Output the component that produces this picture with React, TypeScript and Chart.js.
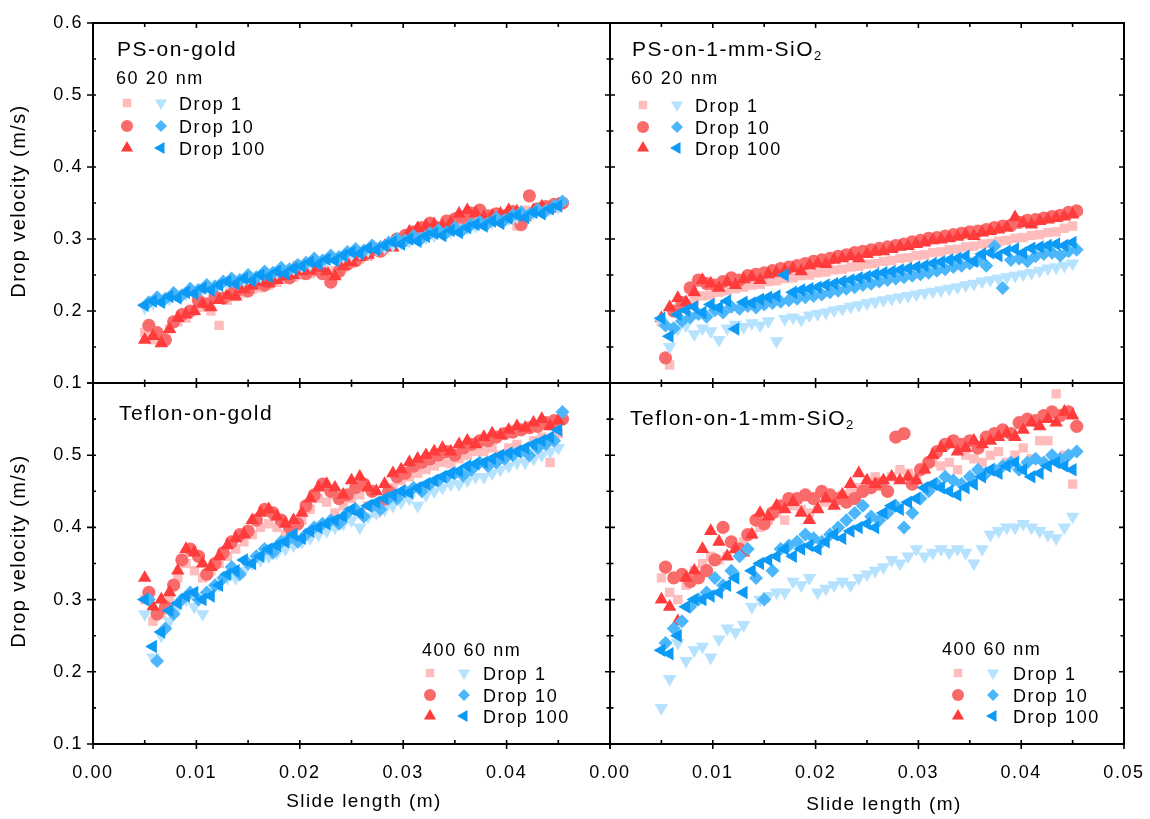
import React, { useEffect, useRef } from "react";
import { Chart, registerables } from "chart.js";

Chart.register(...registerables);

const W = 1150;
const H = 819;
const FONT = '"Liberation Sans", Arial, sans-serif';

// ---- x positions (slide length, m) ----
const xA = [
  0.0050, 0.0058, 0.0066, 0.0074, 0.0082, 0.0090, 0.0098, 0.0106, 0.0114, 0.0122,
  0.0130, 0.0138, 0.0146, 0.0154, 0.0162, 0.0170, 0.0178, 0.0186, 0.0194, 0.0202,
  0.0210, 0.0218, 0.0226, 0.0234, 0.0242, 0.0250, 0.0258, 0.0266, 0.0274, 0.0282,
  0.0290, 0.0298, 0.0306, 0.0314, 0.0322, 0.0330, 0.0338, 0.0346, 0.0354, 0.0362,
  0.0370, 0.0378, 0.0386, 0.0394, 0.0402, 0.0410, 0.0418, 0.0426, 0.0434, 0.0442,
  0.0450,
];
const xB = [
  0.0054, 0.0062, 0.0070, 0.0078, 0.0086, 0.0094, 0.0102, 0.0110, 0.0118, 0.0126,
  0.0134, 0.0142, 0.0150, 0.0158, 0.0166, 0.0174, 0.0182, 0.0190, 0.0198, 0.0206,
  0.0214, 0.0222, 0.0230, 0.0238, 0.0246, 0.0254, 0.0262, 0.0270, 0.0278, 0.0286,
  0.0294, 0.0302, 0.0310, 0.0318, 0.0326, 0.0334, 0.0342, 0.0350, 0.0358, 0.0366,
  0.0374, 0.0382, 0.0390, 0.0398, 0.0406, 0.0414, 0.0422, 0.0430, 0.0438, 0.0446,
  0.0454,
];

// ---- tick values ----
const xTickValues = [0, 0.005, 0.01, 0.015, 0.02, 0.025, 0.03, 0.035, 0.04, 0.045, 0.05];
const yTickValues = [0.1, 0.15, 0.2, 0.25, 0.3, 0.35, 0.4, 0.45, 0.5, 0.55, 0.6];

// ---- PS-on-gold (top left) ----
const psGoldRed1 = [
  0.170, 0.160, 0.165, 0.175, 0.185, 0.190, 0.200, 0.205, 0.200, 0.180, 0.215,
  0.220, 0.225, 0.230, 0.232, 0.236, 0.240, 0.244, 0.247, 0.250, 0.252,
  0.254, 0.250, 0.256, 0.260, 0.266, 0.272, 0.276, 0.282, 0.285, 0.290,
  0.295, 0.302, 0.306, 0.310, 0.314, 0.312, 0.318, 0.322, 0.326, 0.330,
  0.328, 0.325, 0.330, 0.335, 0.318, 0.340, 0.338, 0.342, 0.344, 0.346,
];
const psGoldRed10 = [
  0.180, 0.170, 0.160, 0.185, 0.195, 0.200, 0.215, 0.210, 0.220, 0.218, 0.225,
  0.230, 0.228, 0.240, 0.236, 0.244, 0.250, 0.246, 0.262, 0.252, 0.258,
  0.252, 0.240, 0.255, 0.265, 0.270, 0.278, 0.285, 0.283, 0.292, 0.300,
  0.305, 0.310, 0.316, 0.322, 0.316, 0.325, 0.328, 0.330, 0.336, 0.340,
  0.332, 0.335, 0.332, 0.338, 0.320, 0.360, 0.342, 0.345, 0.348, 0.350,
];
const psGoldRed100 = [
  0.160, 0.165, 0.155, 0.175, 0.190, 0.195, 0.200, 0.210, 0.205, 0.215, 0.222,
  0.220, 0.230, 0.235, 0.240, 0.238, 0.243, 0.248, 0.250, 0.255, 0.256,
  0.260, 0.255, 0.248, 0.262, 0.268, 0.275, 0.278, 0.285, 0.290, 0.288,
  0.295, 0.310, 0.315, 0.318, 0.320, 0.318, 0.322, 0.335, 0.340, 0.336,
  0.330, 0.332, 0.335, 0.340, 0.338, 0.330, 0.340, 0.345, 0.342, 0.348,
];
const psGoldBlue1 = [
  0.205, 0.211, 0.215, 0.217, 0.222, 0.224, 0.228, 0.230, 0.233, 0.237, 0.239,
  0.242, 0.243, 0.247, 0.249, 0.252, 0.254, 0.257, 0.259, 0.263, 0.265,
  0.268, 0.270, 0.273, 0.276, 0.279, 0.281, 0.284, 0.287, 0.289, 0.292,
  0.295, 0.297, 0.300, 0.302, 0.305, 0.308, 0.310, 0.313, 0.315, 0.318,
  0.321, 0.323, 0.326, 0.328, 0.331, 0.334, 0.336, 0.339, 0.341, 0.344,
];
const psGoldBlue10 = [
  0.212, 0.219, 0.217, 0.225, 0.222, 0.231, 0.229, 0.236, 0.234, 0.241, 0.245,
  0.243, 0.250, 0.247, 0.255, 0.253, 0.260, 0.258, 0.264, 0.267, 0.273,
  0.270, 0.277, 0.275, 0.282, 0.286, 0.284, 0.291, 0.289, 0.295, 0.300,
  0.298, 0.304, 0.301, 0.308, 0.312, 0.309, 0.316, 0.313, 0.320, 0.324,
  0.322, 0.329, 0.326, 0.333, 0.337, 0.334, 0.341, 0.339, 0.346, 0.352,
];
const psGoldBlue100 = [
  0.208, 0.214, 0.212, 0.220, 0.218, 0.226, 0.224, 0.232, 0.229, 0.236, 0.241,
  0.238, 0.245, 0.242, 0.250, 0.248, 0.255, 0.252, 0.259, 0.262, 0.268,
  0.265, 0.272, 0.270, 0.277, 0.282, 0.280, 0.287, 0.285, 0.291, 0.296,
  0.293, 0.300, 0.297, 0.304, 0.308, 0.305, 0.312, 0.309, 0.316, 0.320,
  0.318, 0.325, 0.322, 0.329, 0.333, 0.330, 0.337, 0.335, 0.342, 0.346,
];

// ---- PS-on-1-mm-SiO2 (top right) ----
const psSiRed1 = [
  0.185, 0.125, 0.198, 0.208, 0.214, 0.221, 0.222, 0.226, 0.228, 0.231, 0.233,
  0.236, 0.237, 0.241, 0.242, 0.245, 0.246, 0.249, 0.250, 0.253, 0.254,
  0.257, 0.258, 0.261, 0.262, 0.265, 0.266, 0.269, 0.270, 0.273, 0.274,
  0.277, 0.278, 0.281, 0.282, 0.285, 0.286, 0.289, 0.290, 0.293, 0.294,
  0.297, 0.298, 0.301, 0.302, 0.305, 0.306, 0.309, 0.310, 0.315, 0.318,
];
const psSiRed10 = [
  0.135, 0.200, 0.212, 0.232, 0.243, 0.238, 0.236, 0.241, 0.246, 0.243, 0.249,
  0.251, 0.253, 0.256, 0.259, 0.261, 0.263, 0.266, 0.269, 0.271, 0.273,
  0.276, 0.278, 0.281, 0.283, 0.285, 0.287, 0.289, 0.291, 0.293, 0.296,
  0.298, 0.301, 0.302, 0.304, 0.306, 0.308, 0.310, 0.311, 0.313, 0.316,
  0.318, 0.319, 0.323, 0.326, 0.327, 0.329, 0.331, 0.333, 0.337, 0.339,
];
const psSiRed100 = [
  0.190, 0.205, 0.218, 0.212, 0.226, 0.243, 0.238, 0.232, 0.240, 0.236, 0.244,
  0.247, 0.243, 0.251, 0.253, 0.256, 0.259, 0.255, 0.263, 0.266, 0.265,
  0.271, 0.273, 0.276, 0.273, 0.279, 0.282, 0.283, 0.286, 0.289, 0.290,
  0.293, 0.295, 0.298, 0.299, 0.301, 0.303, 0.306, 0.304, 0.309, 0.311,
  0.313, 0.316, 0.330, 0.322, 0.320, 0.325, 0.327, 0.329, 0.331, 0.334,
];
const psSiBlue1 = [
  0.185, 0.150, 0.175, 0.180, 0.168, 0.176, 0.172, 0.160, 0.176, 0.181, 0.178,
  0.183, 0.180, 0.186, 0.158, 0.189, 0.191, 0.188, 0.194, 0.196, 0.198,
  0.201, 0.203, 0.206, 0.208, 0.211, 0.213, 0.215, 0.217, 0.219, 0.221,
  0.223, 0.225, 0.227, 0.229, 0.231, 0.233, 0.236, 0.238, 0.241, 0.243,
  0.245, 0.247, 0.249, 0.251, 0.253, 0.256, 0.259, 0.261, 0.263, 0.266,
];
const psSiBlue10 = [
  0.180, 0.176, 0.186, 0.191, 0.196, 0.192, 0.201, 0.198, 0.206, 0.203, 0.207,
  0.205, 0.209, 0.211, 0.213, 0.215, 0.217, 0.219, 0.221, 0.223, 0.226,
  0.228, 0.231, 0.233, 0.236, 0.238, 0.241, 0.243, 0.245, 0.247, 0.249,
  0.251, 0.253, 0.256, 0.258, 0.261, 0.263, 0.266, 0.271, 0.263, 0.290,
  0.232, 0.271, 0.273, 0.269, 0.276, 0.279, 0.281, 0.277, 0.283, 0.285,
];
const psSiBlue100 = [
  0.190, 0.165, 0.195, 0.201, 0.206, 0.198, 0.209, 0.205, 0.214, 0.175, 0.212,
  0.211, 0.216, 0.219, 0.221, 0.250, 0.226, 0.229, 0.231, 0.233, 0.236,
  0.238, 0.241, 0.243, 0.246, 0.248, 0.251, 0.253, 0.255, 0.257, 0.259,
  0.261, 0.263, 0.266, 0.268, 0.271, 0.273, 0.276, 0.269, 0.279, 0.281,
  0.277, 0.283, 0.286, 0.281, 0.287, 0.289, 0.291, 0.293, 0.291, 0.295,
];

// ---- Teflon-on-gold (bottom left) ----
const tfGoldRed1 = [
  0.300, 0.270, 0.280, 0.300, 0.330, 0.350, 0.340, 0.330, 0.340, 0.350, 0.360,
  0.370, 0.380, 0.390, 0.400, 0.405, 0.400, 0.390, 0.390, 0.410, 0.425,
  0.440, 0.435, 0.420, 0.430, 0.440, 0.445, 0.430, 0.420, 0.430, 0.455,
  0.465, 0.470, 0.475, 0.480, 0.485, 0.490, 0.488, 0.495, 0.500, 0.505,
  0.505, 0.510, 0.500, 0.510, 0.515, 0.505, 0.520, 0.525, 0.490, 0.530,
];
const tfGoldRed10 = [
  0.310, 0.280, 0.290, 0.320, 0.355, 0.370, 0.360, 0.335, 0.350, 0.365, 0.380,
  0.390, 0.395, 0.410, 0.425, 0.420, 0.410, 0.400, 0.405, 0.430, 0.445,
  0.460, 0.450, 0.440, 0.445, 0.455, 0.460, 0.450, 0.430, 0.450, 0.470,
  0.475, 0.485, 0.490, 0.495, 0.500, 0.505, 0.500, 0.510, 0.515, 0.520,
  0.520, 0.525, 0.530, 0.532, 0.535, 0.538, 0.540, 0.545, 0.548, 0.550,
];
const tfGoldRed100 = [
  0.330, 0.290, 0.300, 0.310, 0.340, 0.370, 0.365, 0.350, 0.345, 0.360, 0.375,
  0.385, 0.390, 0.410, 0.420, 0.425, 0.415, 0.405, 0.410, 0.420, 0.440,
  0.455, 0.460, 0.455, 0.445, 0.465, 0.470, 0.455, 0.450, 0.460, 0.475,
  0.480, 0.490, 0.495, 0.500, 0.505, 0.510, 0.505, 0.515, 0.520, 0.515,
  0.525, 0.530, 0.528, 0.535, 0.540, 0.538, 0.545, 0.550, 0.540, 0.548,
];
const tfGoldBlue1 = [
  0.280, 0.220, 0.250, 0.270, 0.290, 0.300, 0.290, 0.280, 0.310, 0.320, 0.330,
  0.330, 0.340, 0.350, 0.355, 0.360, 0.365, 0.370, 0.375, 0.380, 0.385,
  0.390, 0.395, 0.400, 0.405, 0.410, 0.400, 0.415, 0.420, 0.425, 0.430,
  0.435, 0.440, 0.430, 0.445, 0.450, 0.455, 0.460, 0.460, 0.465, 0.470,
  0.470, 0.475, 0.480, 0.485, 0.490, 0.490, 0.495, 0.500, 0.505, 0.510,
];
const tfGoldBlue10 = [
  0.300, 0.215, 0.260, 0.280, 0.300, 0.310, 0.300, 0.310, 0.320, 0.330, 0.345,
  0.335, 0.350, 0.360, 0.370, 0.365, 0.380, 0.385, 0.380, 0.390, 0.400,
  0.405, 0.410, 0.405, 0.420, 0.425, 0.415, 0.430, 0.425, 0.440, 0.440,
  0.450, 0.455, 0.450, 0.460, 0.465, 0.470, 0.475, 0.472, 0.480, 0.490,
  0.485, 0.490, 0.495, 0.500, 0.505, 0.500, 0.510, 0.515, 0.520, 0.560,
];
const tfGoldBlue100 = [
  0.300, 0.235, 0.255, 0.285, 0.295, 0.305, 0.310, 0.300, 0.305, 0.320, 0.335,
  0.340, 0.355, 0.350, 0.360, 0.370, 0.375, 0.380, 0.390, 0.385, 0.395,
  0.400, 0.405, 0.410, 0.415, 0.425, 0.420, 0.430, 0.435, 0.440, 0.445,
  0.450, 0.448, 0.455, 0.460, 0.465, 0.470, 0.475, 0.478, 0.485, 0.488,
  0.490, 0.495, 0.500, 0.503, 0.505, 0.510, 0.515, 0.520, 0.525, 0.535,
];

// ---- Teflon-on-1-mm-SiO2 (bottom right) ----
const tfSiRed1 = [
  0.330, 0.310, 0.300, 0.320, 0.340, 0.350, 0.360, 0.355, 0.360, 0.370, 0.380,
  0.390, 0.400, 0.410, 0.420, 0.410, 0.430, 0.425, 0.420, 0.430, 0.435,
  0.440, 0.445, 0.450, 0.455, 0.460, 0.470, 0.465, 0.470, 0.480, 0.475,
  0.470, 0.480, 0.490, 0.485, 0.490, 0.480, 0.500, 0.495, 0.490, 0.500,
  0.505, 0.490, 0.500, 0.510, 0.495, 0.520, 0.520, 0.585, 0.500, 0.460,
];
const tfSiRed10 = [
  0.345, 0.330, 0.335, 0.325, 0.330, 0.340, 0.355, 0.400, 0.380, 0.370, 0.390,
  0.410, 0.405, 0.420, 0.430, 0.440, 0.440, 0.445, 0.440, 0.450, 0.445,
  0.440, 0.435, 0.440, 0.450, 0.455, 0.460, 0.450, 0.525, 0.530, 0.460,
  0.480, 0.490, 0.505, 0.515, 0.520, 0.515, 0.520, 0.510, 0.525, 0.530,
  0.535, 0.530, 0.545, 0.550, 0.548, 0.555, 0.560, 0.555, 0.560, 0.540,
];
const tfSiRed100 = [
  0.300, 0.290, 0.270, 0.330, 0.340, 0.370, 0.395, 0.380, 0.360, 0.370, 0.365,
  0.390, 0.420, 0.415, 0.430, 0.425, 0.435, 0.420, 0.410, 0.425, 0.440,
  0.430, 0.445, 0.460, 0.475, 0.465, 0.460, 0.465, 0.470, 0.465, 0.470,
  0.465, 0.480, 0.500, 0.510, 0.515, 0.505, 0.510, 0.520, 0.515, 0.520,
  0.525, 0.530, 0.525, 0.535, 0.545, 0.540, 0.550, 0.545, 0.560, 0.555,
];
const tfSiBlue1 = [
  0.150, 0.190, 0.240, 0.215, 0.230, 0.235, 0.220, 0.245, 0.260, 0.255, 0.265,
  0.290, 0.300, 0.305, 0.310, 0.310, 0.325, 0.320, 0.330, 0.310, 0.315,
  0.320, 0.325, 0.320, 0.330, 0.335, 0.340, 0.345, 0.355, 0.350, 0.360,
  0.370, 0.360, 0.365, 0.370, 0.365, 0.370, 0.365, 0.350, 0.370, 0.390,
  0.395, 0.400, 0.400, 0.405, 0.400, 0.395, 0.390, 0.385, 0.400, 0.415,
];
const tfSiBlue10 = [
  0.240, 0.260, 0.270, 0.290, 0.300, 0.310, 0.330, 0.320, 0.340, 0.360, 0.370,
  0.330, 0.300, 0.340, 0.370, 0.375, 0.380, 0.390, 0.385, 0.380, 0.390,
  0.400, 0.410, 0.420, 0.430, 0.415, 0.410, 0.420, 0.430, 0.400, 0.420,
  0.440, 0.450, 0.460, 0.470, 0.465, 0.460, 0.470, 0.480, 0.475, 0.480,
  0.485, 0.490, 0.480, 0.490, 0.495, 0.490, 0.500, 0.495, 0.500, 0.505,
];
const tfSiBlue100 = [
  0.230, 0.225, 0.250, 0.290, 0.300, 0.300, 0.305, 0.310, 0.320, 0.330, 0.310,
  0.340, 0.350, 0.355, 0.360, 0.370, 0.360, 0.370, 0.375, 0.370, 0.380,
  0.390, 0.385, 0.395, 0.400, 0.405, 0.400, 0.420, 0.430, 0.425, 0.435,
  0.440, 0.455, 0.460, 0.455, 0.450, 0.445, 0.455, 0.460, 0.470, 0.480,
  0.475, 0.485, 0.490, 0.480, 0.470, 0.475, 0.485, 0.490, 0.485, 0.480,
];

// ---- series styles (order: red drop1, red drop10, red drop100, blue drop1, blue drop10, blue drop100) ----
const seriesLabels = ["Drop 1", "Drop 10", "Drop 100"];
const STYLES = [
  { color: "#FFBCBC", pointStyle: "rect", rotation: 0, radius: 6.6, legendRadius: 6, xs: xA },
  { color: "#F96A6A", pointStyle: "circle", rotation: 0, radius: 6.6, legendRadius: 6, xs: xB },
  { color: "#FF3B3B", pointStyle: "triangle", rotation: 0, radius: 7.8, legendRadius: 7, xs: xA },
  { color: "#B5E2FF", pointStyle: "triangle", rotation: 180, radius: 7.8, legendRadius: 7, xs: xA },
  { color: "#4CB6FB", pointStyle: "rectRot", rotation: 0, radius: 7, legendRadius: 6, xs: xB },
  { color: "#0C9AF7", pointStyle: "triangle", rotation: 270, radius: 7.8, legendRadius: 7, xs: xA },
];

interface Panel {
  area: [number, number, number, number];
  outerLeft: boolean;
  outerBottom: boolean;
  yLabels: boolean;
  xLabels: boolean;
  hideX05: boolean;
  hideY06: boolean;
  title: string;
  sub: boolean;
  titlePos: [number, number];
  note: string;
  notePos: [number, number];
  legendRows: number[];
  legendCols: [number, number, number];
  yTitleY?: number;
  xTitlePos?: [number, number];
  series: number[][];
}

const PANELS: Panel[] = [
  {
    area: [93, 23, 610, 383],
    outerLeft: true, outerBottom: false, yLabels: true, xLabels: false, hideX05: false, hideY06: false,
    title: "PS-on-gold", sub: false, titlePos: [117, 56],
    note: "60 20 nm", notePos: [116, 84],
    legendRows: [103, 126, 148], legendCols: [127, 161, 179],
    yTitleY: 201,
    series: [psGoldRed1, psGoldRed10, psGoldRed100, psGoldBlue1, psGoldBlue10, psGoldBlue100],
  },
  {
    area: [610, 23, 1124, 383],
    outerLeft: false, outerBottom: false, yLabels: false, xLabels: false, hideX05: false, hideY06: false,
    title: "PS-on-1-mm-SiO", sub: true, titlePos: [632, 56],
    note: "60 20 nm", notePos: [631, 84],
    legendRows: [105, 127, 148], legendCols: [643, 677, 695],
    series: [psSiRed1, psSiRed10, psSiRed100, psSiBlue1, psSiBlue10, psSiBlue100],
  },
  {
    area: [93, 383, 610, 744],
    outerLeft: true, outerBottom: true, yLabels: true, xLabels: true, hideX05: true, hideY06: true,
    title: "Teflon-on-gold", sub: false, titlePos: [119, 420],
    note: "400 60 nm", notePos: [422, 656],
    legendRows: [673, 695, 716], legendCols: [430, 464, 483],
    yTitleY: 551, xTitlePos: [364, 802],
    series: [tfGoldRed1, tfGoldRed10, tfGoldRed100, tfGoldBlue1, tfGoldBlue10, tfGoldBlue100],
  },
  {
    area: [610, 383, 1124, 744],
    outerLeft: false, outerBottom: true, yLabels: false, xLabels: true, hideX05: false, hideY06: true,
    title: "Teflon-on-1-mm-SiO", sub: true, titlePos: [630, 425],
    note: "400 60 nm", notePos: [942, 655],
    legendRows: [673, 695, 716], legendCols: [958, 993, 1013],
    xTitlePos: [884, 805],
    series: [tfSiRed1, tfSiRed10, tfSiRed100, tfSiBlue1, tfSiBlue10, tfSiBlue100],
  },
];

function drawMarker(ctx: CanvasRenderingContext2D, style: string, rotation: number, x: number, y: number, r: number, color: string) {
  ctx.save();
  ctx.fillStyle = color;
  ctx.beginPath();
  if (style === "circle") {
    ctx.arc(x, y, r, 0, Math.PI * 2);
  } else if (style === "rect") {
    const s = r * Math.SQRT1_2;
    ctx.rect(x - s, y - s, 2 * s, 2 * s);
  } else if (style === "rectRot") {
    ctx.moveTo(x, y - r);
    ctx.lineTo(x + r, y);
    ctx.lineTo(x, y + r);
    ctx.lineTo(x - r, y);
  } else {
    let a = (rotation * Math.PI) / 180;
    ctx.moveTo(x + Math.sin(a) * r, y - Math.cos(a) * r);
    a += (2 * Math.PI) / 3;
    ctx.lineTo(x + Math.sin(a) * r, y - Math.cos(a) * r);
    a += (2 * Math.PI) / 3;
    ctx.lineTo(x + Math.sin(a) * r, y - Math.cos(a) * r);
  }
  ctx.closePath();
  ctx.fill();
  ctx.restore();
}

function makeDeco(p: Panel) {
  return {
    id: "panelDeco",
    beforeDraw(chart: any) {
      chart.ctx.letterSpacing = "1.6px";
    },
    afterDraw(chart: any) {
      const ctx: CanvasRenderingContext2D = chart.ctx;
      const { left, top, right, bottom } = chart.chartArea;
      const xs = chart.scales.x;
      const ys = chart.scales.y;
      ctx.save();
      ctx.strokeStyle = "#000";
      ctx.lineWidth = 2;
      ctx.strokeRect(left, top, right - left, bottom - top);
      ctx.lineWidth = 1.6;
      ctx.beginPath();
      xTickValues.forEach((v, k) => {
        const px = xs.getPixelForValue(v);
        const major = k % 2 === 0;
        if (p.outerBottom) {
          ctx.moveTo(px, bottom - 4);
          ctx.lineTo(px, major ? bottom + 5 : bottom);
        } else {
          ctx.moveTo(px, bottom);
          ctx.lineTo(px, bottom - (major ? 5 : 3.5));
        }
        ctx.moveTo(px, top);
        ctx.lineTo(px, top + (major ? 5 : 4));
      });
      yTickValues.forEach((v, k) => {
        const py = ys.getPixelForValue(v);
        const major = k % 2 === 0;
        if (p.outerLeft) {
          ctx.moveTo(major ? left - 6 : left, py);
          ctx.lineTo(left + 3, py);
        } else {
          ctx.moveTo(left, py);
          ctx.lineTo(left + (major ? 5 : 3.5), py);
        }
        ctx.moveTo(right, py);
        ctx.lineTo(right - (major ? 5 : 3.5), py);
      });
      ctx.stroke();

      ctx.fillStyle = "#000";
      ctx.textAlign = "left";
      ctx.textBaseline = "alphabetic";
      (ctx as any).letterSpacing = "1.5px";
      ctx.font = `21px ${FONT}`;
      ctx.fillText(p.title, p.titlePos[0], p.titlePos[1]);
      if (p.sub) {
        const w = ctx.measureText(p.title).width;
        ctx.font = `13px ${FONT}`;
        ctx.fillText("2", p.titlePos[0] + w, p.titlePos[1] + 4);
      }
      (ctx as any).letterSpacing = "1.6px";
      ctx.font = `18px ${FONT}`;
      ctx.fillText(p.note, p.notePos[0], p.notePos[1]);
      for (let r = 0; r < 3; r++) {
        const ry = p.legendRows[r];
        const red = STYLES[r];
        const blue = STYLES[r + 3];
        drawMarker(ctx, red.pointStyle, red.rotation, p.legendCols[0], ry, red.legendRadius, red.color);
        drawMarker(ctx, blue.pointStyle, blue.rotation, p.legendCols[1], ry, blue.legendRadius, blue.color);
        ctx.fillStyle = "#000";
        ctx.font = `18px ${FONT}`;
        ctx.fillText(seriesLabels[r], p.legendCols[2], ry + 7);
      }
      (ctx as any).letterSpacing = "1.4px";
      if (p.yTitleY !== undefined) {
        ctx.save();
        ctx.translate(19, p.yTitleY);
        ctx.rotate(-Math.PI / 2);
        ctx.textAlign = "center";
        ctx.textBaseline = "middle";
        ctx.font = `20px ${FONT}`;
        ctx.fillText("Drop velocity (m/s)", 0, 0);
        ctx.restore();
      }
      if (p.xTitlePos) {
        ctx.textAlign = "center";
        ctx.textBaseline = "middle";
        ctx.font = `19px ${FONT}`;
        ctx.fillText("Slide length (m)", p.xTitlePos[0], p.xTitlePos[1]);
      }
      ctx.restore();
      (ctx as any).letterSpacing = "0px";
    },
  };
}

function PanelChart({ p }: { p: Panel }) {
  const ref = useRef<HTMLCanvasElement | null>(null);
  useEffect(() => {
    if (!ref.current) return;
    const datasets = STYLES.map((s, i) => ({
      label: seriesLabels[i % 3],
      data: p.series[i].map((v, j) => ({ x: s.xs[j], y: v })),
      pointStyle: s.pointStyle as any,
      rotation: s.rotation,
      pointRadius: s.radius,
      backgroundColor: s.color,
      borderColor: s.color,
      borderWidth: 0,
      showLine: false,
      order: 6 - i,
    }));
    const chart = new Chart(ref.current, {
      type: "scatter",
      data: { datasets },
      options: {
        animation: false,
        responsive: false,
        devicePixelRatio: 1,
        events: [],
        layout: { padding: { left: 0, top: p.area[1], right: W - p.area[2], bottom: 0 } },
        plugins: { legend: { display: false }, tooltip: { enabled: false } },
        scales: {
          x: {
            type: "linear",
            position: "bottom",
            min: 0,
            max: 0.05,
            afterFit: (s: any) => {
              s.height = H - p.area[3];
              s.paddingLeft = 0;
              s.paddingRight = 0;
            },
            grid: { display: false, drawTicks: false },
            border: { display: false },
            ticks: {
              display: p.xLabels,
              stepSize: 0.01,
              padding: 18,
              color: "#000",
              font: { family: FONT, size: 18 },
              maxRotation: 0,
              autoSkip: false,
              callback: (v: any) => {
                const n = Number(v);
                if (p.hideX05 && n > 0.0495) return "";
                return n.toFixed(2);
              },
            },
          },
          y: {
            type: "linear",
            position: "left",
            min: 0.1,
            max: 0.6,
            afterFit: (s: any) => {
              s.width = p.area[0];
              s.paddingTop = 0;
              s.paddingBottom = 0;
            },
            grid: { display: false, drawTicks: false },
            border: { display: false },
            ticks: {
              display: p.yLabels,
              stepSize: 0.1,
              padding: 10,
              color: "#000",
              font: { family: FONT, size: 18 },
              autoSkip: false,
              callback: (v: any) => {
                const n = Number(v);
                if (p.hideY06 && n > 0.595) return "";
                return n.toFixed(1);
              },
            },
          },
        },
      } as any,
      plugins: [makeDeco(p)],
    });
    return () => chart.destroy();
  }, [p]);
  return <canvas ref={ref} width={W} height={H} style={{ position: "absolute", left: 0, top: 0 }} />;
}

export default function App() {
  return (
    <div style={{ position: "absolute", left: 0, top: 0, width: W, height: H, background: "#fff", overflow: "hidden" }}>
      {PANELS.map((p, i) => (
        <PanelChart key={i} p={p} />
      ))}
    </div>
  );
}
